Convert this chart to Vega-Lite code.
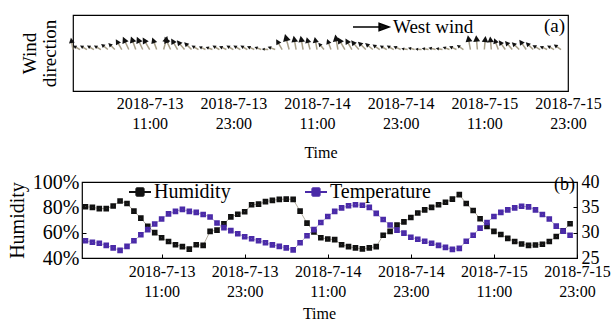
{
  "$schema": "https://vega.github.io/schema/vega-lite/v6.json",
  "padding": {"left": 5, "top": 8, "right": 5, "bottom": 5},
  "spacing": 10,
  "resolve": {"scale": {"color": "independent", "angle": "independent", "size": "independent"}, "legend": {"color": "independent"}},
  "data": {"name": "obs", "values": [
    {"t": "2018-07-13T00:00", "hum": 80.5, "temp": 28.4, "dir": 350, "spd": 3},
    {"t": "2018-07-13T01:00", "hum": 80, "temp": 28.1, "dir": 300, "spd": 2},
    {"t": "2018-07-13T02:00", "hum": 79, "temp": 27.9, "dir": 300, "spd": 2},
    {"t": "2018-07-13T03:00", "hum": 79, "temp": 27.5, "dir": 300, "spd": 2},
    {"t": "2018-07-13T04:00", "hum": 81, "temp": 27.0, "dir": 300, "spd": 2},
    {"t": "2018-07-13T05:00", "hum": 85, "temp": 26.5, "dir": 310, "spd": 2.2},
    {"t": "2018-07-13T06:00", "hum": 83, "temp": 27.3, "dir": 315, "spd": 2.3},
    {"t": "2018-07-13T07:00", "hum": 77, "temp": 28.4, "dir": 330, "spd": 3},
    {"t": "2018-07-13T08:00", "hum": 71.5, "temp": 29.6, "dir": 335, "spd": 3.5},
    {"t": "2018-07-13T09:00", "hum": 65, "temp": 30.6, "dir": 340, "spd": 3.5},
    {"t": "2018-07-13T10:00", "hum": 60, "temp": 31.7, "dir": 335, "spd": 3.5},
    {"t": "2018-07-13T11:00", "hum": 56, "temp": 32.7, "dir": 330, "spd": 3.5},
    {"t": "2018-07-13T12:00", "hum": 53, "temp": 33.7, "dir": 340, "spd": 3.2},
    {"t": "2018-07-13T13:00", "hum": 50.5, "temp": 34.2, "dir": 15, "spd": 3.5},
    {"t": "2018-07-13T14:00", "hum": 49, "temp": 34.6, "dir": 335, "spd": 3.5},
    {"t": "2018-07-13T15:00", "hum": 47, "temp": 34.2, "dir": 330, "spd": 3.2},
    {"t": "2018-07-13T16:00", "hum": 50.5, "temp": 34.0, "dir": 320, "spd": 3},
    {"t": "2018-07-13T17:00", "hum": 50, "temp": 33.6, "dir": 315, "spd": 2.6},
    {"t": "2018-07-13T18:00", "hum": 61, "temp": 33.1, "dir": 300, "spd": 2},
    {"t": "2018-07-13T19:00", "hum": 62, "temp": 31.9, "dir": 295, "spd": 1.8},
    {"t": "2018-07-13T20:00", "hum": 67, "temp": 31.0, "dir": 290, "spd": 1.8},
    {"t": "2018-07-13T21:00", "hum": 72.5, "temp": 30.4, "dir": 300, "spd": 2},
    {"t": "2018-07-13T22:00", "hum": 74.5, "temp": 29.8, "dir": 295, "spd": 2},
    {"t": "2018-07-13T23:00", "hum": 76.5, "temp": 29.2, "dir": 300, "spd": 2},
    {"t": "2018-07-14T00:00", "hum": 82, "temp": 28.8, "dir": 300, "spd": 2},
    {"t": "2018-07-14T01:00", "hum": 82.5, "temp": 28.4, "dir": 300, "spd": 2},
    {"t": "2018-07-14T02:00", "hum": 84.5, "temp": 28.0, "dir": 295, "spd": 2},
    {"t": "2018-07-14T03:00", "hum": 85.5, "temp": 27.6, "dir": 290, "spd": 1.8},
    {"t": "2018-07-14T04:00", "hum": 86.3, "temp": 27.3, "dir": 275, "spd": 1.6},
    {"t": "2018-07-14T05:00", "hum": 86.5, "temp": 27.0, "dir": 290, "spd": 2},
    {"t": "2018-07-14T06:00", "hum": 86.3, "temp": 26.6, "dir": 330, "spd": 3},
    {"t": "2018-07-14T07:00", "hum": 77, "temp": 28.0, "dir": 345, "spd": 4},
    {"t": "2018-07-14T08:00", "hum": 67.5, "temp": 29.4, "dir": 350, "spd": 3.5},
    {"t": "2018-07-14T09:00", "hum": 60.5, "temp": 30.6, "dir": 350, "spd": 3.5},
    {"t": "2018-07-14T10:00", "hum": 56, "temp": 32.0, "dir": 345, "spd": 3.2},
    {"t": "2018-07-14T11:00", "hum": 55, "temp": 33.2, "dir": 350, "spd": 3.2},
    {"t": "2018-07-14T12:00", "hum": 54.5, "temp": 34.2, "dir": 320, "spd": 2.2},
    {"t": "2018-07-14T13:00", "hum": 50.5, "temp": 34.9, "dir": 340, "spd": 2.8},
    {"t": "2018-07-14T14:00", "hum": 49, "temp": 35.3, "dir": 350, "spd": 3.8},
    {"t": "2018-07-14T15:00", "hum": 48, "temp": 35.5, "dir": 330, "spd": 3.5},
    {"t": "2018-07-14T16:00", "hum": 47.2, "temp": 35.4, "dir": 330, "spd": 3.2},
    {"t": "2018-07-14T17:00", "hum": 48, "temp": 35.0, "dir": 320, "spd": 3},
    {"t": "2018-07-14T18:00", "hum": 49, "temp": 33.8, "dir": 315, "spd": 2.8},
    {"t": "2018-07-14T19:00", "hum": 58, "temp": 32.6, "dir": 310, "spd": 2.5},
    {"t": "2018-07-14T20:00", "hum": 61, "temp": 31.5, "dir": 305, "spd": 2.2},
    {"t": "2018-07-14T21:00", "hum": 66, "temp": 30.5, "dir": 300, "spd": 2},
    {"t": "2018-07-14T22:00", "hum": 68.5, "temp": 29.9, "dir": 300, "spd": 2},
    {"t": "2018-07-14T23:00", "hum": 72, "temp": 29.1, "dir": 295, "spd": 2},
    {"t": "2018-07-15T00:00", "hum": 75.5, "temp": 28.7, "dir": 280, "spd": 1.6},
    {"t": "2018-07-15T01:00", "hum": 78, "temp": 28.3, "dir": 285, "spd": 1.7},
    {"t": "2018-07-15T02:00", "hum": 80, "temp": 27.9, "dir": 275, "spd": 1.6},
    {"t": "2018-07-15T03:00", "hum": 82, "temp": 27.5, "dir": 280, "spd": 1.7},
    {"t": "2018-07-15T04:00", "hum": 84, "temp": 27.1, "dir": 285, "spd": 1.8},
    {"t": "2018-07-15T05:00", "hum": 86.5, "temp": 26.7, "dir": 280, "spd": 1.7},
    {"t": "2018-07-15T06:00", "hum": 90, "temp": 26.9, "dir": 290, "spd": 1.8},
    {"t": "2018-07-15T07:00", "hum": 83, "temp": 28.3, "dir": 295, "spd": 2},
    {"t": "2018-07-15T08:00", "hum": 77.5, "temp": 29.5, "dir": 305, "spd": 2},
    {"t": "2018-07-15T09:00", "hum": 71, "temp": 30.9, "dir": 350, "spd": 3.6},
    {"t": "2018-07-15T10:00", "hum": 65, "temp": 32.0, "dir": 355, "spd": 3.6},
    {"t": "2018-07-15T11:00", "hum": 61, "temp": 33.2, "dir": 5, "spd": 3.4},
    {"t": "2018-07-15T12:00", "hum": 58.5, "temp": 34.0, "dir": 355, "spd": 3.3},
    {"t": "2018-07-15T13:00", "hum": 55.5, "temp": 34.5, "dir": 340, "spd": 3},
    {"t": "2018-07-15T14:00", "hum": 53, "temp": 34.9, "dir": 325, "spd": 2.8},
    {"t": "2018-07-15T15:00", "hum": 51, "temp": 35.2, "dir": 320, "spd": 2.8},
    {"t": "2018-07-15T16:00", "hum": 50, "temp": 35.1, "dir": 315, "spd": 2.6},
    {"t": "2018-07-15T17:00", "hum": 50.3, "temp": 34.5, "dir": 325, "spd": 3},
    {"t": "2018-07-15T18:00", "hum": 50.8, "temp": 33.6, "dir": 315, "spd": 2.6},
    {"t": "2018-07-15T19:00", "hum": 53, "temp": 32.7, "dir": 300, "spd": 2.2},
    {"t": "2018-07-15T20:00", "hum": 57, "temp": 31.3, "dir": 295, "spd": 2},
    {"t": "2018-07-15T21:00", "hum": 61.5, "temp": 30.3, "dir": 300, "spd": 2},
    {"t": "2018-07-15T22:00", "hum": 67, "temp": 29.5, "dir": 305, "spd": 2.2}
  ]},
  "vconcat": [
    {"spacing": 0, "hconcat": [
    {"width": 14, "height": 1, "view": {"stroke": null}, "data": {"values": []}, "mark": "point"},
    {
      "width": 495,
      "height": 76,
      "title": {"text": "(a)", "orient": "top", "anchor": "end", "frame": "group", "offset": -21, "dx": -3},
      "encoding": {
        "x": {
          "field": "t", "type": "temporal",
          "scale": {"domain": [{"year": 2018, "month": 7, "date": 13, "hours": 0}, {"year": 2018, "month": 7, "date": 15, "hours": 23}]},
          "axis": {
            "values": [
              {"year": 2018, "month": 7, "date": 13, "hours": 11},
              {"year": 2018, "month": 7, "date": 13, "hours": 23},
              {"year": 2018, "month": 7, "date": 14, "hours": 11},
              {"year": 2018, "month": 7, "date": 14, "hours": 23},
              {"year": 2018, "month": 7, "date": 15, "hours": 11},
              {"year": 2018, "month": 7, "date": 15, "hours": 23}
            ],
            "labelExpr": "[timeFormat(datum.value, '%Y-%-m-%-d'), timeFormat(datum.value, '%H:%M')]",
            "ticks": false,
            "labelPadding": 4,
            "labelLineHeight": 20,
            "labelFlush": false,
            "labelOverlap": false,
            "title": "Time",
            "titlePadding": 13
          }
        },
        "y": {
          "datum": 0, "type": "quantitative",
          "scale": {"domain": [-1.2, 1], "nice": false, "zero": false},
          "axis": {"title": ["Wind", "direction"], "labels": false, "ticks": false, "titleFontSize": 19, "titleLineHeight": 20, "titlePadding": 14}
        },
        "angle": {"field": "dir", "type": "quantitative", "scale": {"domain": [0, 360], "range": [0, 360]}},
        "size": {"field": "spd", "type": "quantitative", "scale": {"type": "pow", "exponent": 2, "domain": [0, 4], "range": [0, 1024]}, "legend": null}
      },
      "layer": [
        {"mark": {"type": "point", "shape": "M0,0L0,-0.7", "filled": false, "stroke": "#a89f88", "strokeWidth": 1.5, "opacity": 1}},
        {
          "mark": {"type": "point", "shape": "M0,-1L-0.24,-0.55L0.24,-0.55Z", "filled": true, "opacity": 1, "strokeWidth": 0},
          "encoding": {
            "color": {
              "datum": "West wind",
              "scale": {"domain": ["West wind"], "range": ["#111111"]},
              "legend": {
                "orient": "none", "legendX": 347, "legendY": -7, "title": null,
                "symbolType": "M-1,0H0.55M1,0L0.45,-0.2L0.45,0.2Z", "symbolSize": 1300,
                "symbolFillColor": "#000", "symbolStrokeColor": "#000", "symbolStrokeWidth": 1.5,
                "labelFontSize": 19, "labelOffset": 3
              }
            }
          }
        }
      ]
    }
    ]},
    {"spacing": 0, "hconcat": [
    {"width": 1, "height": 1, "view": {"stroke": null}, "data": {"values": []}, "mark": "point"},
    {
      "width": 495,
      "height": 76,
      "title": {"text": "(b)", "orient": "top", "anchor": "end", "frame": "group", "offset": -22, "dx": -2, "fontSize": 18},
      "layer": [
        {
          "encoding": {
            "x": {
              "field": "t", "type": "temporal",
              "scale": {"domain": [{"year": 2018, "month": 7, "date": 12, "hours": 23, "minutes": 30}, {"year": 2018, "month": 7, "date": 15, "hours": 23}]},
              "axis": {
                "values": [
                  {"year": 2018, "month": 7, "date": 13, "hours": 11},
                  {"year": 2018, "month": 7, "date": 13, "hours": 23},
                  {"year": 2018, "month": 7, "date": 14, "hours": 11},
                  {"year": 2018, "month": 7, "date": 14, "hours": 23},
                  {"year": 2018, "month": 7, "date": 15, "hours": 11},
                  {"year": 2018, "month": 7, "date": 15, "hours": 23}
                ],
                "labelExpr": "[timeFormat(datum.value, '%Y-%-m-%-d'), timeFormat(datum.value, '%H:%M')]",
                "tickSize": -4,
                "labelPadding": 9,
                "labelLineHeight": 20,
                "labelFlush": false,
                "labelOverlap": false,
                "title": "Time",
                "titleX": 237,
                "titleY": 47,
                "titleBaseline": "top",
                "encode": {"labels": {"update": {"dx": {"signal": "-7 - 22 * (toNumber(datum.value) - toNumber(datetime(2018, 6, 13, 11))) / 216000000"}}}}
              }
            },
            "y": {
              "field": "hum", "type": "quantitative",
              "scale": {"domain": [40, 100]},
              "axis": {"values": [40, 60, 80, 100], "labelExpr": "datum.value + '%'", "tickSize": -4, "labelPadding": 7, "labelFontSize": 20, "title": "Humidity", "titleFontSize": 20, "titlePadding": 5}
            }
          },
          "layer": [
            {"mark": {"type": "line", "stroke": "#b3ad9f", "strokeWidth": 1}},
            {"mark": {"type": "point", "shape": "square", "filled": false, "size": 9, "strokeWidth": 2.6, "opacity": 1},
             "encoding": {"color": {"datum": "Humidity", "scale": {"domain": ["Humidity", "Temperature"], "range": ["#111111", "#4a2aa8"]},
               "legend": {"orient": "none", "legendX": 123, "legendY": -2, "direction": "horizontal", "title": null,
                 "symbolType": "M-1,0H1M-0.34,-0.34H0.34M-0.34,-0.17H0.34M-0.34,0.17H0.34M-0.34,0.34H0.34M-0.34,-0.34V0.34M0.34,-0.34V0.34", "symbolSize": 484, "symbolStrokeWidth": 1.8,
                 "labelFontSize": 20, "labelOffset": 2, "columnPadding": 70}}}}
          ]
        },
        {
          "encoding": {
            "x": {"field": "t", "type": "temporal"},
            "y": {
              "field": "temp", "type": "quantitative",
              "scale": {"domain": [25, 40]},
              "axis": {"orient": "right", "values": [25, 30, 35, 40], "tickSize": -4, "labelPadding": 8, "labelFontSize": 18, "title": null}
            }
          },
          "layer": [
            {"mark": {"type": "line", "stroke": "#b9b2c8", "strokeWidth": 1}},
            {"mark": {"type": "point", "shape": "square", "filled": false, "size": 9, "strokeWidth": 2.6, "opacity": 1},
             "encoding": {"color": {"datum": "Temperature"}}}
          ]
        }
      ],
      "resolve": {"scale": {"y": "independent"}}
    }
    ]}
  ],
  "config": {
    "font": "Liberation Serif",
    "view": {"stroke": "#000000", "strokeWidth": 1.2},
    "axis": {"labelFont": "Liberation Serif", "titleFont": "Liberation Serif", "labelColor": "#000", "titleColor": "#000", "titleFontWeight": "normal", "labelFontSize": 16, "titleFontSize": 16, "grid": false, "domain": false, "tickColor": "#000"},
    "legend": {"labelFont": "Liberation Serif", "labelColor": "#000"},
    "title": {"font": "Liberation Serif", "fontSize": 19, "fontWeight": "normal", "color": "#000"}
  }
}
